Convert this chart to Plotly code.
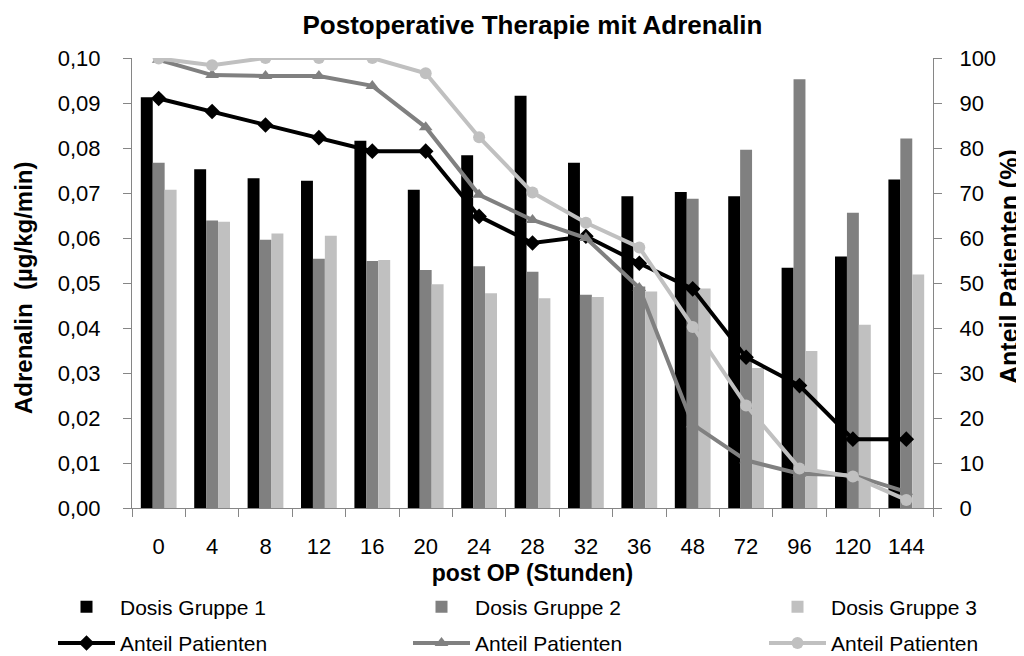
import plotly.graph_objects as go

categories = ["0", "4", "8", "12", "16", "20", "24", "28", "32", "36", "48", "72", "96", "120", "144"]

dosis_g1 = [0.0913, 0.0753, 0.0733, 0.0727, 0.0816, 0.0707, 0.0784, 0.0916, 0.0767, 0.0693, 0.0702, 0.0693, 0.0534, 0.0559, 0.0730]
dosis_g2 = [0.0767, 0.0639, 0.0596, 0.0554, 0.0549, 0.0529, 0.0537, 0.0525, 0.0474, 0.0492, 0.0687, 0.0796, 0.0953, 0.0656, 0.0821]
dosis_g3 = [0.0707, 0.0636, 0.0610, 0.0605, 0.0551, 0.0497, 0.0477, 0.0466, 0.0469, 0.0481, 0.0488, 0.0311, 0.0349, 0.0407, 0.0519]

anteil_g1 = [91.0, 88.1, 85.1, 82.3, 79.3, 79.3, 64.8, 58.9, 60.4, 54.4, 48.7, 33.5, 27.2, 15.3, 15.3]
anteil_g2 = [99.6, 96.2, 96.0, 96.0, 93.8, 84.6, 69.6, 64.0, 60.0, 48.9, 18.6, 10.6, 7.6, 7.3, 3.6]
anteil_g3 = [99.9, 98.4, 100.0, 100.0, 100.0, 96.6, 82.4, 70.1, 63.4, 57.9, 40.2, 22.8, 8.8, 7.0, 1.8]

bar_names = ["Dosis Gruppe 1", "Dosis Gruppe 2", "Dosis Gruppe 3"]
line_name = "Anteil Patienten"
colors = ["#000000", "#808080", "#C0C0C0"]
symbols = ["diamond", "triangle-up", "circle"]
marker_sizes = [12, 12, 12]

FONT = "Liberation Sans, Arial, sans-serif"

fig = go.Figure()
legends = ["legend", "legend2", "legend3"]
for i, (vals, name) in enumerate(zip([dosis_g1, dosis_g2, dosis_g3], bar_names)):
    fig.add_trace(go.Bar(
        x=categories, y=vals, name=name,
        marker=dict(color=colors[i], line=dict(width=0)),
        yaxis="y", legend=legends[i], legendgroup=f"b{i}",
    ))
for i, vals in enumerate([anteil_g1, anteil_g2, anteil_g3]):
    fig.add_trace(go.Scatter(
        x=categories, y=vals, name=line_name, mode="lines+markers",
        line=dict(color=colors[i], width=4),
        marker=dict(symbol=symbols[i], size=marker_sizes[i], color=colors[i]),
        yaxis="y2", legend=legends[i], legendgroup=f"l{i}",
    ))

# the page body adds an 8px offset; layout values below compensate for it
OFF = 8
W, H = 1024, 656
PL, PR, PT, PB = 132, 933, 58, 508  # plot area as seen on the page

axis_line = "#868686"
leg_common = dict(orientation="v", xref="container", yref="container", yanchor="top",
                  xanchor="left", y=0.118, font=dict(family=FONT, size=21, color="#000000"),
                  itemwidth=57, tracegroupgap=6, bgcolor="rgba(0,0,0,0)", borderwidth=0)

tick_font = dict(family=FONT, size=22, color="#000000")
pw, ph = PR - PL, PB - PT

fig.update_layout(
    width=W, height=H,
    paper_bgcolor="white", plot_bgcolor="white",
    separators=",.",
    font=dict(family=FONT, color="#000000"),
    margin=dict(l=PL - OFF, r=W - (PR - OFF), t=PT - OFF, b=H - (PB - OFF), autoexpand=False),
    title=dict(text="<b>Postoperative Therapie mit Adrenalin</b>", x=0.5, xref="paper",
               xanchor="center", y=1 - (25 - OFF) / H, yref="container", yanchor="middle",
               font=dict(family=FONT, size=26, color="#000000")),
    barmode="group", bargap=0.33, bargroupgap=0,
    xaxis=dict(type="category", range=[-0.5, len(categories) - 0.5], showline=True,
               linecolor=axis_line, linewidth=1,
               ticks="outside", tickson="boundaries", ticklen=8, tickcolor=axis_line,
               tickfont=tick_font, ticklabelstandoff=19,
               showgrid=False, zeroline=False,
               title=dict(text="<b>post OP (Stunden)</b>", standoff=6,
                          font=dict(family=FONT, size=23, color="#000000"))),
    yaxis=dict(range=[0, 0.1], dtick=0.01, tickformat=".2f", showline=True, linecolor=axis_line,
               ticks="outside", ticklen=8, tickcolor=axis_line, showgrid=False, zeroline=False,
               tickfont=tick_font, ticklabelstandoff=18),
    yaxis2=dict(range=[0, 100], dtick=10, overlaying="y", side="right", showline=True,
                linecolor=axis_line, ticks="outside", ticklen=8, tickcolor=axis_line,
                showgrid=False, zeroline=False,
                tickfont=tick_font, ticklabelstandoff=13),
    legend=dict(x=45 / W, **leg_common),
    legend2=dict(x=400 / W, **leg_common),
    legend3=dict(x=756 / W, **leg_common),
    annotations=[
        dict(text="<b>Adrenalin\u00a0 (µg/kg/min)</b>", textangle=-90, showarrow=False,
             xref="paper", yref="paper", x=(23 - PL) / pw, y=(PB - 288) / ph,
             xanchor="center", yanchor="middle",
             font=dict(family=FONT, size=24, color="#000000")),
        dict(text="<b>Anteil Patienten (%)</b>", textangle=-90, showarrow=False,
             xref="paper", yref="paper", x=(1009 - PL) / pw, y=(PB - 267) / ph,
             xanchor="center", yanchor="middle",
             font=dict(family=FONT, size=25, color="#000000")),
    ],
)

fig.write_html("out.html")
